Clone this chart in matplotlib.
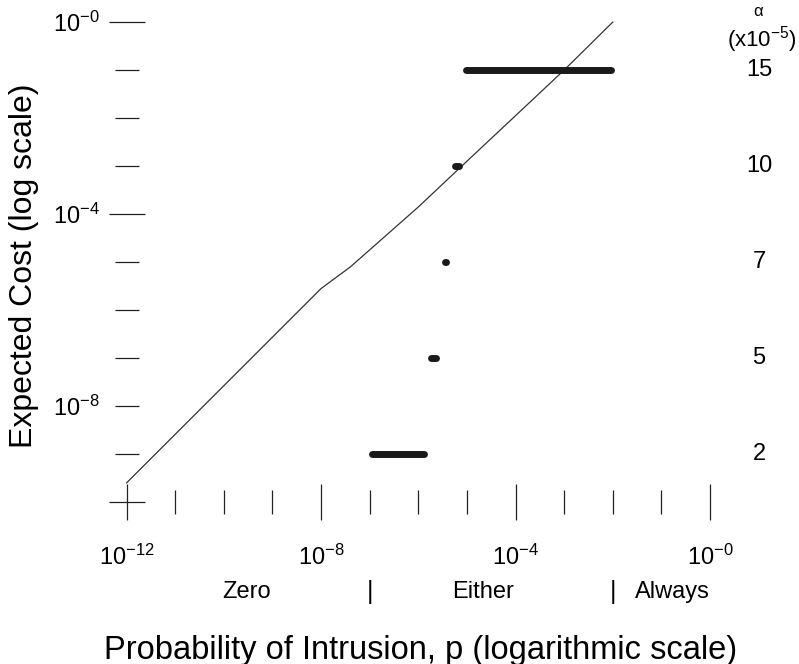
import matplotlib
matplotlib.use('Agg')
import matplotlib.pyplot as plt
from matplotlib.ticker import FixedLocator, FixedFormatter, NullFormatter
from matplotlib.transforms import blended_transform_factory

plt.rcParams['font.family'] = ['Liberation Sans', 'DejaVu Sans']
plt.rcParams['mathtext.fontset'] = 'custom'
plt.rcParams['mathtext.rm'] = 'Liberation Sans'
plt.rcParams['mathtext.it'] = 'Liberation Sans:italic'
plt.rcParams['mathtext.bf'] = 'Liberation Sans:bold'

# expected cost curve (log-log)
curve_p = [1e-12, 1e-8, 4e-8, 1e-6, 1e-5, 1e-4, 1e-3, 1e-2]
curve_cost = [2.5e-10, 2.8e-6, 7.9e-6, 1.4e-4, 1.26e-3, 1.12e-2, 1e-1, 1.0]

# alpha (x10^-5) bands: cost level and p range
alpha_labels = ['2', '5', '7', '10', '15']
alpha_cost = [1e-9, 1e-7, 1e-5, 1e-3, 1e-1]
alpha_p_lo = [1.1e-7, 1.86e-6, 3.55e-6, 5.6e-6, 9.5e-6]
alpha_p_hi = [1.3e-6, 2.34e-6, 3.7e-6, 6.8e-6, 9.0e-3]

# ticks
x_major = [1e-12, 1e-8, 1e-4, 1e0]
x_major_labels = [r'$\mathregular{10^{-12}}$', r'$\mathregular{10^{-8}}$',
                  r'$\mathregular{10^{-4}}$', r'$\mathregular{10^{-0}}$']
x_minor = [1e-11, 1e-10, 1e-9, 1e-7, 1e-6, 1e-5, 1e-3, 1e-2, 1e-1]
y_major = [1e0, 1e-4, 1e-8, 1e-10]
y_major_labels = [r'$\mathregular{10^{-0}}$', r'$\mathregular{10^{-4}}$',
                  r'$\mathregular{10^{-8}}$', '']
y_minor = [1e-1, 1e-2, 1e-3, 1e-5, 1e-6, 1e-7, 1e-9]

# decision zones along p
zone_names = ['Zero', 'Either', 'Always']
zone_centers = [3e-10, 2.1e-5, 0.17]
zone_edges = [1e-7, 1e-2]

fig = plt.figure(figsize=(7.99, 6.64), dpi=100)
ax = fig.add_axes([0.0975, 0.1861, 0.852, 0.8096])
ax.set_xscale('log')
ax.set_yscale('log')
ax.set_xlim(1e-13, 1e1)
ax.set_ylim(10 ** -10.8, 10 ** 0.4)

for s in ax.spines.values():
    s.set_visible(False)
ax.spines['left'].set_position(('data', 1e-12))
ax.spines['bottom'].set_position(('data', 1e-10))

ax.xaxis.set_major_locator(FixedLocator(x_major))
ax.xaxis.set_major_formatter(FixedFormatter(x_major_labels))
ax.xaxis.set_minor_locator(FixedLocator(x_minor))
ax.xaxis.set_minor_formatter(NullFormatter())
ax.yaxis.set_major_locator(FixedLocator(y_major))
ax.yaxis.set_major_formatter(FixedFormatter(y_major_labels))
ax.yaxis.set_minor_locator(FixedLocator(y_minor))
ax.yaxis.set_minor_formatter(NullFormatter())

ax.tick_params(which='major', direction='inout', length=26, width=0.9,
               color='#222222', labelsize=17)
ax.tick_params(which='minor', direction='inout', length=17, width=0.9,
               color='#222222')
ax.tick_params(axis='x', which='major', pad=18)
ax.tick_params(axis='y', which='major', pad=6.5)
ax.yaxis.get_major_ticks()[2].tick1line.set_markersize(17)

ax.plot(curve_p, curve_cost, color='#333333', lw=0.9, clip_on=False)
for lo, hi, c in zip(alpha_p_lo, alpha_p_hi, alpha_cost):
    ax.plot([lo, hi], [c, c], color='#1a1a1a', lw=5, solid_capstyle='round')

tr = blended_transform_factory(fig.transFigure, ax.transData)
for lab, c in zip(alpha_labels, alpha_cost):
    ax.text(759 / 799, c, lab, transform=tr, ha='center', va='center', fontsize=17)
fig.text(758 / 799, 1 - 12 / 664, 'α', ha='center', va='center', fontsize=12)
fig.text(762 / 799, 1 - 40 / 664, r'(x$\mathregular{10^{-5}}$)', ha='center', va='center',
         fontsize=16)

tz = blended_transform_factory(ax.transData, fig.transFigure)
for name, xc in zip(zone_names, zone_centers):
    ax.text(xc, 1 - 592 / 664, name, transform=tz, ha='center', va='center', fontsize=17)
for xe in zone_edges:
    ax.text(xe, 1 - 592 / 664, '|', transform=tz, ha='center', va='center', fontsize=18)

fig.text(24 / 799, 1 - 266 / 664, 'Expected Cost (log scale)', rotation=90,
         ha='center', va='center', fontsize=23)
fig.text(421 / 799, 1 - 650 / 664, 'Probability of Intrusion, p (logarithmic scale)',
         ha='center', va='center', fontsize=23.5)

fig.savefig('out.png', dpi=100)
